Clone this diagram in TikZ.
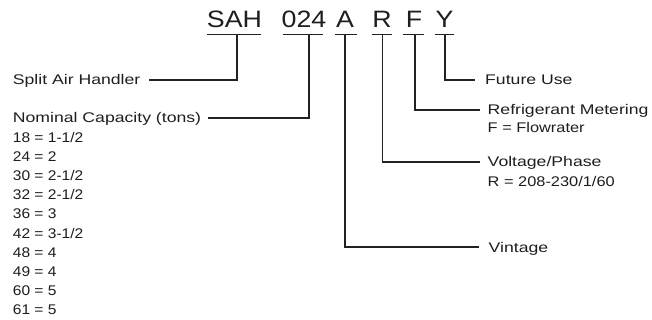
\documentclass[tikz,border=0pt]{standalone}
\usepackage{fontspec}
\setmainfont{Liberation Sans}
\newfontfamily\lblfont[FakeStretch=1.26]{Liberation Sans}
\newfontfamily\listfont[FakeStretch=1.11]{Liberation Sans}
\newfontfamily\valfont[FakeStretch=1.17]{Liberation Sans}
\newfontfamily\codefont[FakeStretch=1.13]{Liberation Sans}
\definecolor{txt}{HTML}{1E1E1E}
\definecolor{ln}{HTML}{222222}
\begin{document}
\begin{tikzpicture}[x=1pt,y=-1pt,
  lbl/.style={font=\lblfont\fontsize{14}{17}\selectfont, text height=10pt, text depth=0pt, inner sep=0pt, text=txt},
  lst/.style={lbl, font=\listfont\fontsize{14}{17}\selectfont},
  val/.style={lbl, font=\valfont\fontsize{14}{17}\selectfont},
  code/.style={font=\codefont\fontsize{23.7}{28}\selectfont, anchor=base, inner sep=0pt, text=txt},
  lead/.style={line width=1.6pt, draw=ln},
  uline/.style={line width=1.6pt, draw=ln},
]
\useasboundingbox (0,0) rectangle (652,320);
% code letters
\node[code] (sah) at (234.5,28) {SAH};
\node[code] (cap) at (304,28) {024};
\node[code] (vin) at (345,28) {A};
\node[code] (vol) at (382,28) {R};
\node[code] (ref) at (414,28) {F};
\node[code] (fut) at (444.5,28) {Y};
% underlines
\draw[uline] (207,34.5) -- (261,34.5);
\draw[uline] (283,34.5) -- (323,34.5);
\draw[uline] (335,34.5) -- (357,34.5);
\draw[uline] (372,34.5) -- (392,34.5);
\draw[uline] (403,34.5) -- (424,34.5);
\draw[uline] (435,34.5) -- (454,34.5);
% stem tops
\coordinate (sahS) at (237,34.5);
\coordinate (capS) at (309,34.5);
\coordinate (vinS) at (345,34.5);
\coordinate (volS) at (382.5,34.5);
\coordinate (refS) at (415,34.5);
\coordinate (futS) at (445,34.5);
% left labels
\node[lbl, anchor=west] (split) at (12.7,80) {Split Air Handler};
\node[lbl, anchor=west] (nom) at (12.7,118) {Nominal Capacity (tons)};
\foreach \t [count=\i from 0] in {18 = 1-1/2, 24 = 2, 30 = 2-1/2, 32 = 2-1/2, 36 = 3, 42 = 3-1/2, 48 = 4, 49 = 4, 60 = 5, 61 = 5}
  \node[lst, anchor=base west] (list\i) at (12.7,{142.7+19.07*\i}) {\t};
% right labels
\node[lbl, anchor=west] (futL) at (485,80) {Future Use};
\node[lbl, anchor=west] (refL) at (487.5,110) {Refrigerant Metering};
\node[val, anchor=west] (refV) at (487.5,127.5) {F = Flowrater};
\node[lbl, anchor=west] (volL) at (487.5,162) {Voltage/Phase};
\node[val, anchor=west] (volV) at (487.5,181) {R = 208-230/1/60};
\node[lbl, anchor=west] (vinL) at (488.5,247) {Vintage};
% leaders
\draw[lead] (sahS) |- ([xshift=8pt]split.east);
\draw[lead] (capS) |- ([xshift=7pt]nom.east);
\draw[lead] (vinS) |- ([xshift=-10pt]vinL.west);
\draw[lead] (volS) |- ([xshift=-8pt]volL.west);
\draw[lead] (refS) |- ([xshift=-8pt]refL.west);
\draw[lead] (futS) |- ([xshift=-10pt]futL.west);
\end{tikzpicture}
\end{document}
